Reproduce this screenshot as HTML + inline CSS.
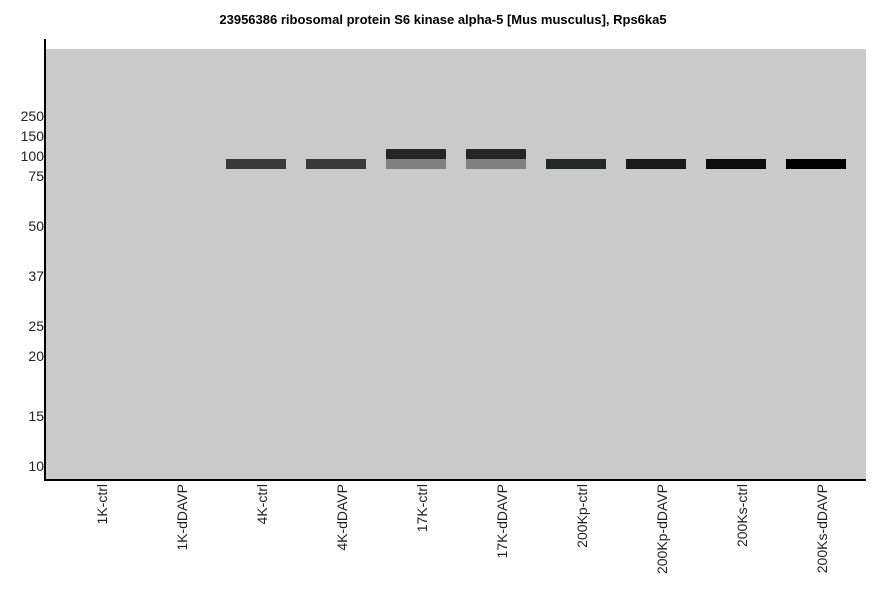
<!DOCTYPE html>
<html><head><style>
body{margin:0;background:#fff;width:886px;height:595px;overflow:hidden;font-family:"Liberation Sans",sans-serif}
</style></head><body>
<svg width="886" height="595" xmlns="http://www.w3.org/2000/svg" font-family="Liberation Sans, sans-serif">
<text x="443" y="24" text-anchor="middle" font-size="13" font-weight="bold">23956386 ribosomal protein S6 kinase alpha-5 [Mus musculus], Rps6ka5</text>
<rect x="46" y="49" width="820" height="430" fill="#c9cac9"/>
<line x1="45" y1="39" x2="45" y2="480" stroke="#000" stroke-width="2"/>
<line x1="44" y1="480" x2="866" y2="480" stroke="#000" stroke-width="2"/>
<g font-size="14" text-anchor="end" fill="#222">
<text x="44" y="121">250</text><text x="44" y="141">150</text><text x="44" y="161">100</text><text x="44" y="181">75</text>
<text x="44" y="231">50</text><text x="44" y="281">37</text><text x="44" y="331">25</text><text x="44" y="361">20</text>
<text x="44" y="421">15</text><text x="44" y="471">10</text>
</g>
<rect x="226" y="159" width="60" height="10" fill="#393939"/>
<rect x="306" y="159" width="60" height="10" fill="#393939"/>
<rect x="386" y="149" width="60" height="10" fill="#262626"/>
<rect x="386" y="159" width="60" height="10" fill="#808080"/>
<rect x="466" y="149" width="60" height="10" fill="#262626"/>
<rect x="466" y="159" width="60" height="10" fill="#808080"/>
<rect x="546" y="159" width="60" height="10" fill="#262827"/>
<rect x="626" y="159" width="60" height="10" fill="#1a1a1a"/>
<rect x="706" y="159" width="60" height="10" fill="#0c0c0c"/>
<rect x="786" y="159" width="60" height="10" fill="#000"/>
<g font-size="14" text-anchor="end" fill="#222">
<text transform="translate(107,484) rotate(-90)">1K-ctrl</text>
<text transform="translate(187,484) rotate(-90)">1K-dDAVP</text>
<text transform="translate(267,484) rotate(-90)">4K-ctrl</text>
<text transform="translate(347,484) rotate(-90)">4K-dDAVP</text>
<text transform="translate(427,484) rotate(-90)">17K-ctrl</text>
<text transform="translate(507,484) rotate(-90)">17K-dDAVP</text>
<text transform="translate(587,484) rotate(-90)">200Kp-ctrl</text>
<text transform="translate(667,484) rotate(-90)">200Kp-dDAVP</text>
<text transform="translate(747,484) rotate(-90)">200Ks-ctrl</text>
<text transform="translate(827,484) rotate(-90)">200Ks-dDAVP</text>
</g>
</svg>
</body></html>
